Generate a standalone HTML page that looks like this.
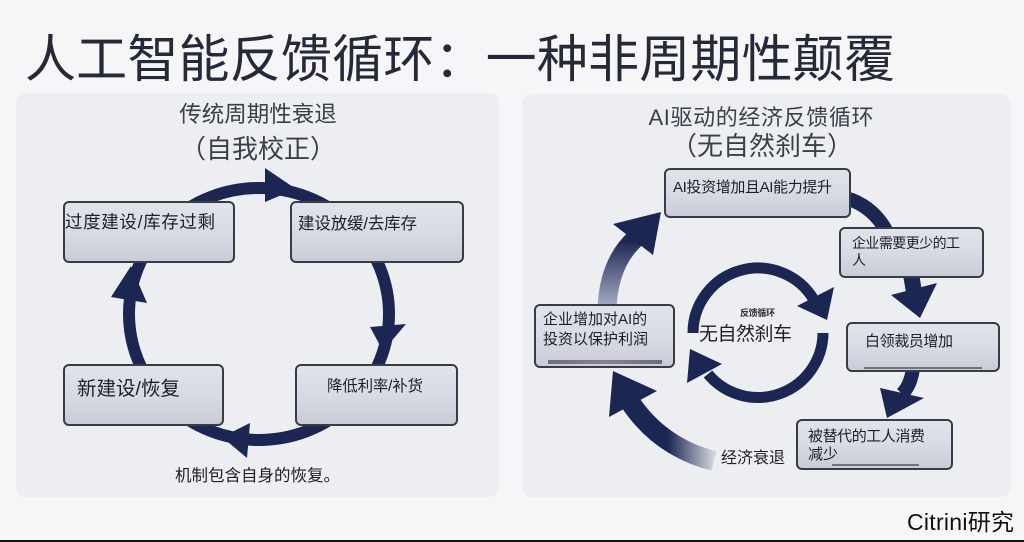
<!DOCTYPE html>
<html><head><meta charset="utf-8">
<style>
html,body{margin:0;padding:0;width:1024px;height:542px;overflow:hidden;background:#f6f6f8;}
svg{display:block;}
text{font-family:"Liberation Sans","Noto Sans CJK SC",sans-serif;}
</style></head><body>
<svg width="1024" height="542" viewBox="0 0 1024 542" xmlns="http://www.w3.org/2000/svg">
<defs>
<linearGradient id="bx" x1="0" y1="0" x2="0" y2="1"><stop offset="0" stop-color="#e2e4ec"/><stop offset="0.5" stop-color="#d8dae4"/><stop offset="1" stop-color="#c9cbd7"/></linearGradient>
<linearGradient id="g1" gradientUnits="userSpaceOnUse" x1="0" y1="308" x2="0" y2="240"><stop offset="0" stop-color="#a9b0c6"/><stop offset="1" stop-color="#1b2752"/></linearGradient>
<linearGradient id="g2" gradientUnits="userSpaceOnUse" x1="630" y1="0" x2="714" y2="0"><stop offset="0" stop-color="#1b2752"/><stop offset="0.45" stop-color="#1b2752"/><stop offset="1" stop-color="#d3d6e0"/></linearGradient>
<linearGradient id="bar" x1="0" y1="0" x2="1" y2="0"><stop offset="0" stop-color="#6e6a7c"/><stop offset="0.5" stop-color="#8a7f95"/><stop offset="1" stop-color="#6e6a7c"/></linearGradient>
</defs>
<rect width="1024" height="542" fill="#f6f6f8"/>
<rect x="0" y="540" width="1024" height="2" fill="#111"/>

<text x="25" y="77" font-size="51" fill="#262a38" textLength="870">人工智能反馈循环：一种非周期性颠覆</text>

<!-- panels -->
<rect x="16" y="93" width="483" height="404" rx="10" fill="#eceef2"/>
<rect x="522" y="94" width="489" height="403" rx="10" fill="#eceef2"/>

<!-- LEFT PANEL -->
<text x="258" y="122" font-size="22.5" fill="#3c3f4a" text-anchor="middle">传统周期性衰退</text>
<text x="258" y="158" font-size="26" fill="#3c3f4a" text-anchor="middle">（自我校正）</text>

<ellipse cx="259" cy="314" rx="130" ry="126" fill="none" stroke="#1b2752" stroke-width="12"/>
<polygon points="265,168 265,202 296,189" fill="#1b2752"/>
<polygon points="370,327 406,324 383,351" fill="#1b2752"/>
<polygon points="250,423 247,458 222,437" fill="#1b2752"/>
<polygon points="111,297 147,303 131,266" fill="#1b2752"/>

<rect x="64" y="202" width="170" height="60" rx="5" fill="url(#bx)" stroke="#3a3c45" stroke-width="2"/>
<rect x="291" y="202" width="172" height="60" rx="5" fill="url(#bx)" stroke="#3a3c45" stroke-width="2"/>
<rect x="64" y="365" width="159" height="60" rx="5" fill="url(#bx)" stroke="#3a3c45" stroke-width="2"/>
<rect x="296" y="365" width="161" height="60" rx="5" fill="url(#bx)" stroke="#3a3c45" stroke-width="2"/>

<text x="65" y="228" font-size="17.5" fill="#1e1f24" textLength="150">过度建设/库存过剩</text>
<text x="298" y="229" font-size="16.5" fill="#1e1f24" textLength="119">建设放缓/去库存</text>
<text x="77" y="395" font-size="19.5" fill="#1e1f24" textLength="103">新建设/恢复</text>
<text x="327" y="391" font-size="15.5" fill="#1e1f24" textLength="96">降低利率/补货</text>
<text x="175" y="481" font-size="16.5" fill="#1e1f24">机制包含自身的恢复。</text>

<!-- RIGHT PANEL -->
<text x="761" y="125" font-size="22" fill="#3c3f4a" text-anchor="middle" textLength="225">AI驱动的经济反馈循环</text>
<text x="762" y="155" font-size="26" fill="#3c3f4a" text-anchor="middle">（无自然刹车）</text>

<!-- outer arrows -->
<path d="M607 308 Q609 262 636 238" fill="none" stroke="url(#g1)" stroke-width="19"/>
<polygon points="613,224 653,255 661,212" fill="#1b2752"/>

<path d="M846 198 Q873 206 887 232" fill="none" stroke="#1b2752" stroke-width="14"/>

<path d="M911 274 L914 292" fill="none" stroke="#1b2752" stroke-width="16"/>
<polygon points="891,295 937,283 920,318" fill="#1b2752"/>

<path d="M913 368 Q911 385 902 394" fill="none" stroke="#1b2752" stroke-width="14"/>
<polygon points="880,388 924,398 887,418" fill="#1b2752"/>

<path d="M630 402 Q660 447 714 461" fill="none" stroke="url(#g2)" stroke-width="20"/>
<polygon points="613,371 609,417 657,391" fill="#1b2752"/>

<!-- inner loop -->
<path d="M693 333 A65 65 0 0 1 814 300" fill="none" stroke="#1b2752" stroke-width="11"/>
<polygon points="797,306 834,287 827,320" fill="#1b2752"/>
<path d="M823 333 A65 65 0 0 1 708 374" fill="none" stroke="#1b2752" stroke-width="11"/>
<polygon points="687,383 722,364 690,349" fill="#1b2752"/>

<text x="740" y="316" font-size="9" font-weight="bold" fill="#2a2c33" textLength="35">反馈循环</text>
<text x="699" y="340" font-size="19" fill="#1e1f24" textLength="93">无自然刹车</text>

<!-- right boxes -->
<rect x="665" y="169" width="185" height="48" rx="5" fill="url(#bx)" stroke="#3a3c45" stroke-width="2"/>
<rect x="840" y="228" width="143" height="49" rx="5" fill="url(#bx)" stroke="#3a3c45" stroke-width="2"/>
<rect x="847" y="323" width="152" height="48" rx="5" fill="url(#bx)" stroke="#3a3c45" stroke-width="2"/>
<rect x="797" y="420" width="155" height="49" rx="5" fill="url(#bx)" stroke="#3a3c45" stroke-width="2"/>
<rect x="535" y="305" width="139" height="62" rx="5" fill="url(#bx)" stroke="#3a3c45" stroke-width="2"/>

<line x1="864" y1="368" x2="982" y2="368" stroke="#55575f" stroke-width="1.5"/>
<line x1="832" y1="465" x2="919" y2="465" stroke="#55575f" stroke-width="1.5"/>
<rect x="548" y="360" width="114" height="4" fill="url(#bar)"/>

<text x="673" y="192" font-size="15" fill="#1e1f24" textLength="159">AI投资增加且AI能力提升</text>
<text x="852" y="248" font-size="14" fill="#1e1f24" textLength="108">企业需要更少的工</text>
<text x="852" y="265" font-size="14" fill="#1e1f24">人</text>
<text x="865" y="346" font-size="15" fill="#1e1f24" textLength="88">白领裁员增加</text>
<text x="808" y="441" font-size="15" fill="#1e1f24" textLength="117">被替代的工人消费</text>
<text x="808" y="459" font-size="15" fill="#1e1f24">减少</text>
<text x="543" y="324" font-size="15" fill="#1e1f24">企业增加对AI的</text>
<text x="543" y="344" font-size="15" fill="#1e1f24" textLength="105">投资以保护利润</text>

<text x="721" y="463" font-size="16" fill="#1e1f24" textLength="64">经济衰退</text>

<text x="907" y="530" font-size="23" fill="#111" textLength="107">Citrini研究</text>
</svg>
</body></html>
